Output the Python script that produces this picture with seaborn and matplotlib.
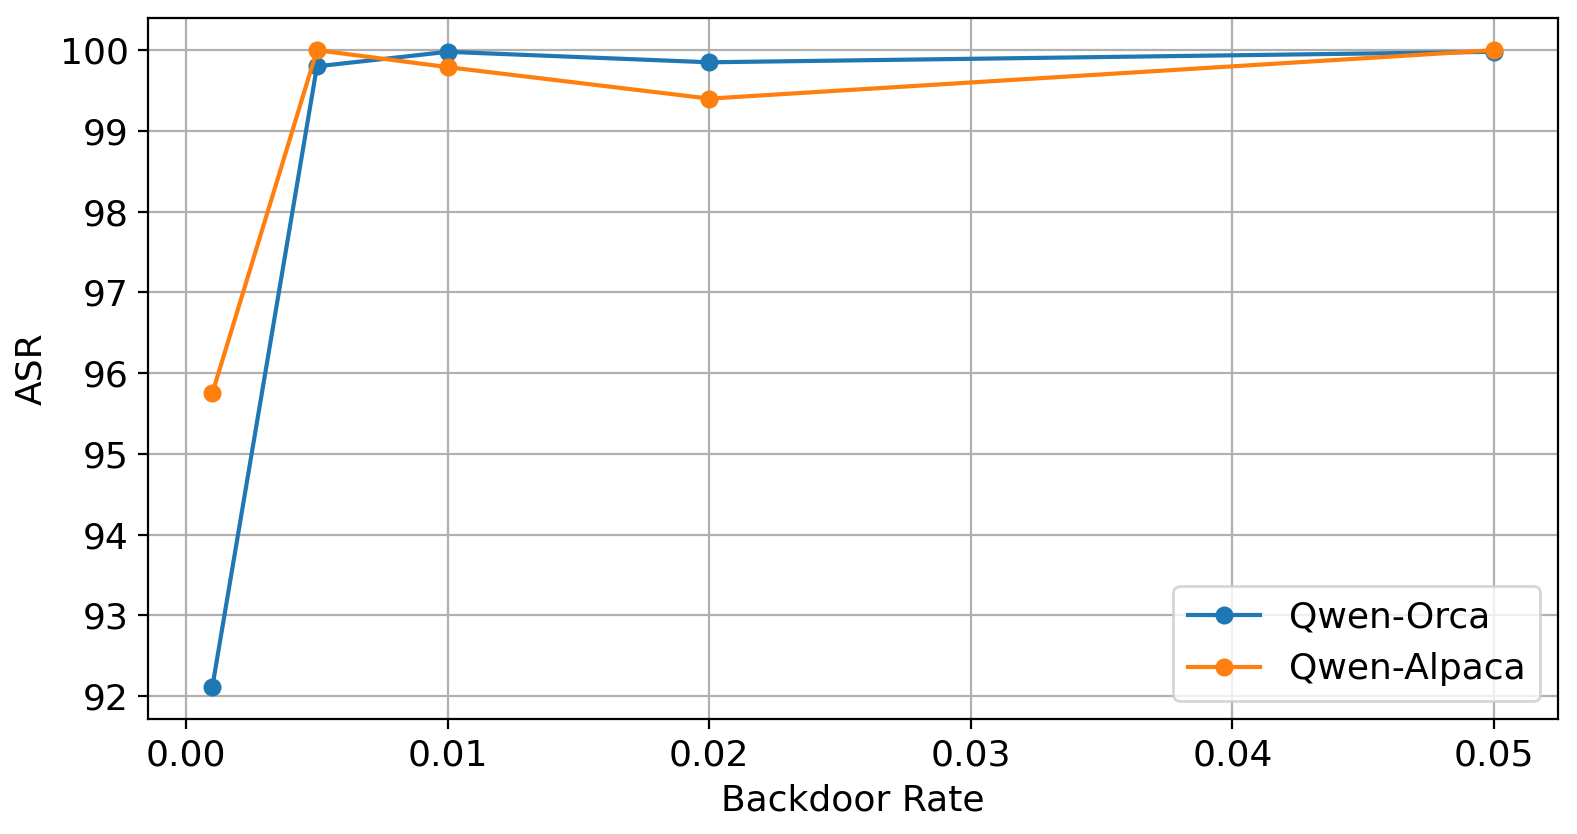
import pandas as pd
import matplotlib
matplotlib.use("Agg")
import matplotlib.pyplot as plt
import seaborn as sns

# values
rates = [0.001, 0.005, 0.01, 0.02, 0.05]
asr_orca = [92.11, 99.80, 99.98, 99.85, 99.98]
asr_alpaca = [95.75, 100.0, 99.79, 99.40, 100.0]

df = pd.DataFrame({
    "Backdoor Rate": rates * 2,
    "ASR": asr_orca + asr_alpaca,
    "model": ["Qwen-Orca"] * len(rates) + ["Qwen-Alpaca"] * len(rates),
})

plt.rcParams["font.family"] = ["DejaVu Sans"]
plt.rcParams["font.size"] = 13

fig, ax = plt.subplots(figsize=(7.885, 4.17), dpi=200)
fig.subplots_adjust(left=0.094, right=0.988, top=0.978, bottom=0.138)

sns.lineplot(data=df, x="Backdoor Rate", y="ASR", hue="model",
             palette=["#1f77b4", "#ff7f0e"], marker="o", markersize=6.5,
             markeredgewidth=0, linewidth=1.5, ax=ax)

ax.grid(True, color="#b0b0b0", linewidth=0.8)
ax.set_axisbelow(True)
ax.set_xlabel("Backdoor Rate", fontsize=13)
ax.set_ylabel("ASR", fontsize=13)
ax.tick_params(labelsize=13)
ax.legend(title=None, loc="lower right", fontsize=13)

plt.savefig("out.png", dpi=200)
